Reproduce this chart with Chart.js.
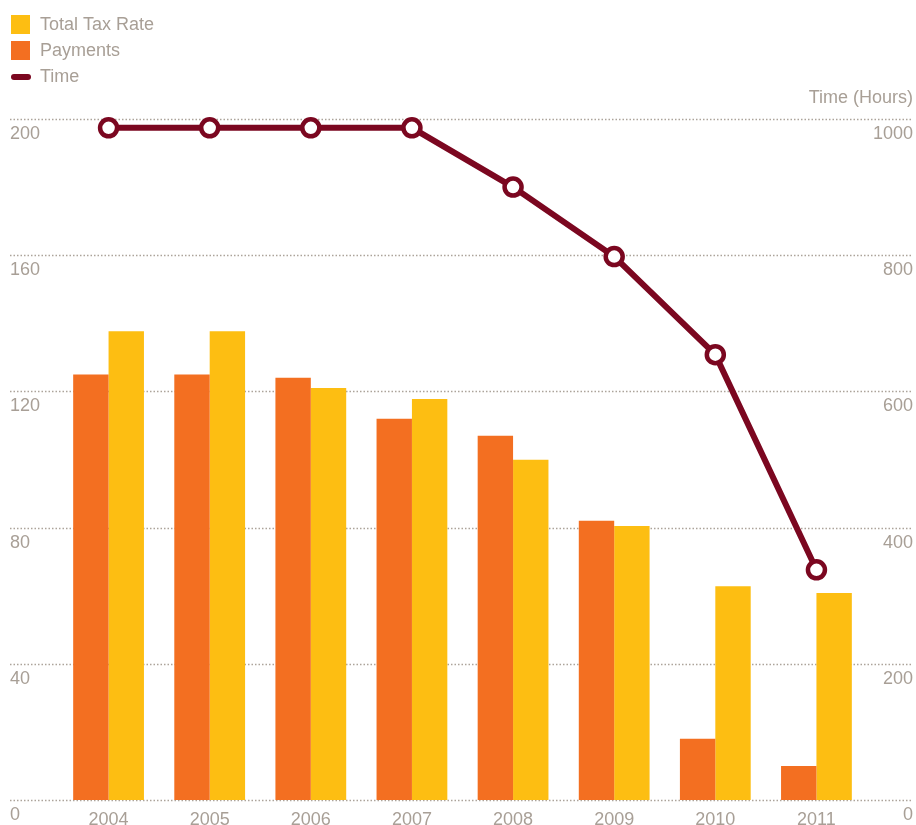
<!DOCTYPE html>
<html>
<head>
<meta charset="utf-8">
<script src="https://cdn.jsdelivr.net/npm/chart.js@4/dist/chart.umd.min.js"></script>
<style>
  html, body { margin: 0; padding: 0; background: #ffffff; }
  #wrap { width: 916px; height: 825px; position: relative; }
</style>
</head>
<body>
<div id="wrap"><canvas id="c" width="916" height="825"></canvas></div>
<script>
const years = ["2004", "2005", "2006", "2007", "2008", "2009", "2010", "2011"];
const payments = [125, 125, 124, 112, 107, 82, 18, 10];
const totalTaxRate = [137.7, 137.7, 121, 117.8, 99.9, 80.5, 62.8, 60.8];
const timeHours = [987, 987, 987, 987, 900, 798, 654, 338];
const leftTicks = [0, 40, 80, 120, 160, 200];
const rightTicks = [0, 200, 400, 600, 800, 1000];

const TEXT = '#a89f96';
const GRID = '#aca39a';
const YELLOW = '#fdbe12';
const ORANGE = '#f36f21';
const MAROON = '#7b0720';
const FONT = '"Liberation Sans", Arial, Helvetica, sans-serif';

const decor = {
  id: 'decor',
  beforeDatasetsDraw(chart) {
    const ctx = chart.ctx;
    const y = chart.scales.y, y1 = chart.scales.y1;
    ctx.save();
    ctx.strokeStyle = GRID;
    ctx.lineWidth = 1.5;
    ctx.setLineDash([1.5, 2]);
    leftTicks.forEach(v => {
      const py = Math.round(y.getPixelForValue(v)) + 0.5;
      ctx.beginPath();
      ctx.moveTo(10, py);
      ctx.lineTo(913, py);
      ctx.stroke();
    });
    ctx.setLineDash([]);
    ctx.fillStyle = TEXT;
    ctx.font = '18px ' + FONT;
    ctx.textBaseline = 'middle';
    ctx.textAlign = 'left';
    leftTicks.forEach(v => {
      ctx.fillText(String(v), 10, y.getPixelForValue(v) + 15);
    });
    ctx.textAlign = 'right';
    rightTicks.forEach(v => {
      ctx.fillText(String(v), 913, y1.getPixelForValue(v) + 15);
    });
    ctx.fillText('Time (Hours)', 913, 98);
    // legend
    ctx.textAlign = 'left';
    ctx.fillStyle = YELLOW;
    ctx.fillRect(11, 15, 19, 19);
    ctx.fillStyle = ORANGE;
    ctx.fillRect(11, 41, 19, 19);
    ctx.strokeStyle = MAROON;
    ctx.lineWidth = 6;
    ctx.lineCap = 'round';
    ctx.beginPath();
    ctx.moveTo(14, 77);
    ctx.lineTo(28, 77);
    ctx.stroke();
    ctx.fillStyle = TEXT;
    ctx.fillText('Total Tax Rate', 40, 25);
    ctx.fillText('Payments', 40, 51);
    ctx.fillText('Time', 40, 77);
    ctx.restore();
  }
};

new Chart(document.getElementById('c'), {
  type: 'bar',
  data: {
    labels: years,
    datasets: [
      {
        type: 'line', label: 'Time', data: timeHours, yAxisID: 'y1', order: 0,
        borderColor: MAROON, borderWidth: 6, tension: 0,
        pointRadius: 8.5, pointBorderWidth: 4.5, pointBackgroundColor: '#ffffff',
        pointBorderColor: MAROON, clip: false
      },
      {
        label: 'Payments', data: payments, yAxisID: 'y', order: 1,
        backgroundColor: ORANGE, categoryPercentage: 0.7, barPercentage: 1
      },
      {
        label: 'Total Tax Rate', data: totalTaxRate, yAxisID: 'y', order: 1,
        backgroundColor: YELLOW, categoryPercentage: 0.7, barPercentage: 1
      }
    ]
  },
  options: {
    responsive: false,
    animation: false,
    devicePixelRatio: 1,
    layout: { padding: { left: 58, right: 49, top: 119, bottom: 0 } },
    plugins: { legend: { display: false }, tooltip: { enabled: false } },
    scales: {
      x: {
        grid: { display: false, drawTicks: false },
        border: { display: false },
        ticks: { color: TEXT, font: { size: 18, family: FONT }, padding: 9, maxRotation: 0 },
        afterFit(scale) { scale.height = 25; }
      },
      y: { display: false, min: 0, max: 200 },
      y1: { display: false, min: 0, max: 1000, position: 'right' }
    }
  },
  plugins: [decor]
});
</script>
</body>
</html>
